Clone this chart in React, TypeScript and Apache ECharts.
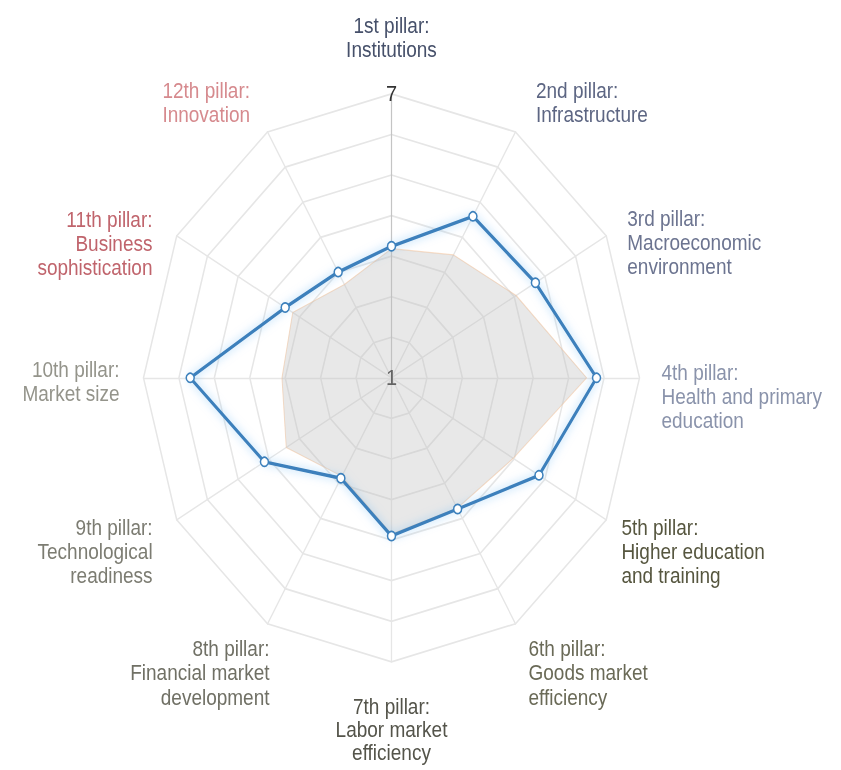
import React, { useEffect, useRef } from 'react';
import * as echarts from 'echarts';

// ---------- data ----------
const pillarNames = [
  '1st pillar:\nInstitutions',
  '2nd pillar:\nInfrastructure',
  '3rd pillar:\nMacroeconomic\nenvironment',
  '4th pillar:\nHealth and primary\neducation',
  '5th pillar:\nHigher education\nand training',
  '6th pillar:\nGoods market\nefficiency',
  '7th pillar:\nLabor market\nefficiency',
  '8th pillar:\nFinancial market\ndevelopment',
  '9th pillar:\nTechnological\nreadiness',
  '10th pillar:\nMarket size',
  '11th pillar:\nBusiness\nsophistication',
  '12th pillar:\nInnovation',
];

const countryScores = [3.78, 4.94, 5.02, 5.96, 5.12, 4.2, 4.34, 3.45, 4.55, 5.87, 3.97, 3.58];
const groupScores = [3.73, 4.0, 4.48, 5.72, 4.4, 4.18, 4.3, 3.4, 3.94, 3.65, 3.76, 3.28];

const scaleMin = 1;
const scaleMax = 7;
const ringCount = 7;
const tickLabels = ['1', '7'];

// ---------- styles / layout ----------
const pillarColors = [
  '#46506a', '#5d6683', '#6c7490', '#8a93ab',
  '#56563f', '#6a6a57', '#54544a', '#707065', '#7c7c72', '#94948b',
  '#c0646c', '#d68a8e',
];
const nameGaps = [28, 41, 30, 22, 14, 26, 29, 26, 14, 24, 28, 41];
const nameLineHeights = [21, 21, 21, 21, 21, 21, 20, 21, 21, 21, 21, 21];
const nameVAligns = [null, 'top', 'top', 'top', 'top', 'top', null, 'top', 'top', 'top', 'top', 'top'];
const namePads = [
  [0, 0, 0, 0],
  [-11, 0, 0, 0],
  [-11, 0, 0, -5],
  [-15, 0, 0, 0],
  [-11, 0, 0, 3],
  [-11, 0, 0, 0],
  [0, 0, 0, 0],
  [-11, -15, 0, 0],
  [-11, 12, 0, 0],
  [-18, 0, 0, 0],
  [-11, 0, 0, 0],
  [-11, -3, 0, 0],
];

const STRETCH = 1.145;
const W = 841;
const H = 672;

export default function App() {
  const ref = useRef<HTMLDivElement>(null);

  useEffect(() => {
    if (!ref.current) return;
    const chart = echarts.init(ref.current, null, { renderer: 'svg' });

    // ECharts lays indicators counter-clockwise; reorder so pillars run clockwise
    const order = [0, ...pillarNames.map((_, i) => i).slice(1).reverse()];

    const fmt = (v: number) =>
      Math.abs(v - scaleMin) < 1e-6 ? tickLabels[0] : Math.abs(v - scaleMax) < 1e-6 ? tickLabels[1] : '';

    const indicator = order.map((i) => {
      const nts: any = {
        color: pillarColors[i],
        padding: namePads[i],
        lineHeight: nameLineHeights[i],
      };
      if (nameVAligns[i]) nts.verticalAlign = nameVAligns[i];
      const ind: any = {
        name: pillarNames[i],
        min: scaleMin,
        max: scaleMax,
        color: pillarColors[i],
        nameGap: nameGaps[i],
        nameTextStyle: nts,
      };
      if (i === 0) {
        ind.axisLabel = {
          show: true,
          margin: 0,
          align: 'center',
          verticalAlign: 'middle',
          fontSize: 20,
          color: '#333',
          padding: [0, 0, 6, 0],
          fontFamily: 'Liberation Sans, Arial, sans-serif',
          formatter: fmt,
        };
        ind.axisLine = { show: true, lineStyle: { color: '#c4c4c4', width: 1.2 } };
      }
      return ind;
    });

    chart.setOption({
      animation: false,
      backgroundColor: '#fff',
      radar: {
        center: [391.5, 330],
        radius: 248,
        startAngle: 90,
        shape: 'polygon',
        splitNumber: ringCount,
        indicator,
        axisName: {
          fontSize: 19,
          lineHeight: 21,
          fontFamily: 'Liberation Sans, Arial, sans-serif',
        },
        axisLabel: { show: false },
        axisLine: { show: true, lineStyle: { color: '#e6e6e6', width: 1.3 } },
        splitLine: { show: true, lineStyle: { color: '#e6e6e6', width: 1.5 } },
        splitArea: { show: false },
        axisTick: { show: false },
      },
      series: [
        {
          type: 'radar',
          symbol: 'none',
          z: 2,
          lineStyle: { color: 'rgba(248,200,160,0.6)', width: 1 },
          areaStyle: { color: '#bdbdbd', opacity: 0.35 },
          data: [{ name: 'Group', value: order.map((i) => groupScores[i]) }],
        },
        {
          type: 'radar',
          symbol: 'circle',
          symbolSize: 8,
          z: 3,
          lineStyle: {
            color: '#3c80bc',
            width: 3,
            shadowColor: 'rgba(120,190,245,0.7)',
            shadowBlur: 8,
          },
          itemStyle: { color: '#ffffff', borderColor: '#3c80bc', borderWidth: 1.5 },
          data: [{ name: 'Country', value: order.map((i) => countryScores[i]) }],
        },
      ],
    });

    return () => chart.dispose();
  }, []);

  return (
    <div
      ref={ref}
      style={{
        position: 'absolute',
        left: 0,
        top: 0,
        width: W,
        height: H,
        transform: `scaleY(${STRETCH})`,
        transformOrigin: '0 0',
      }}
    />
  );
}
